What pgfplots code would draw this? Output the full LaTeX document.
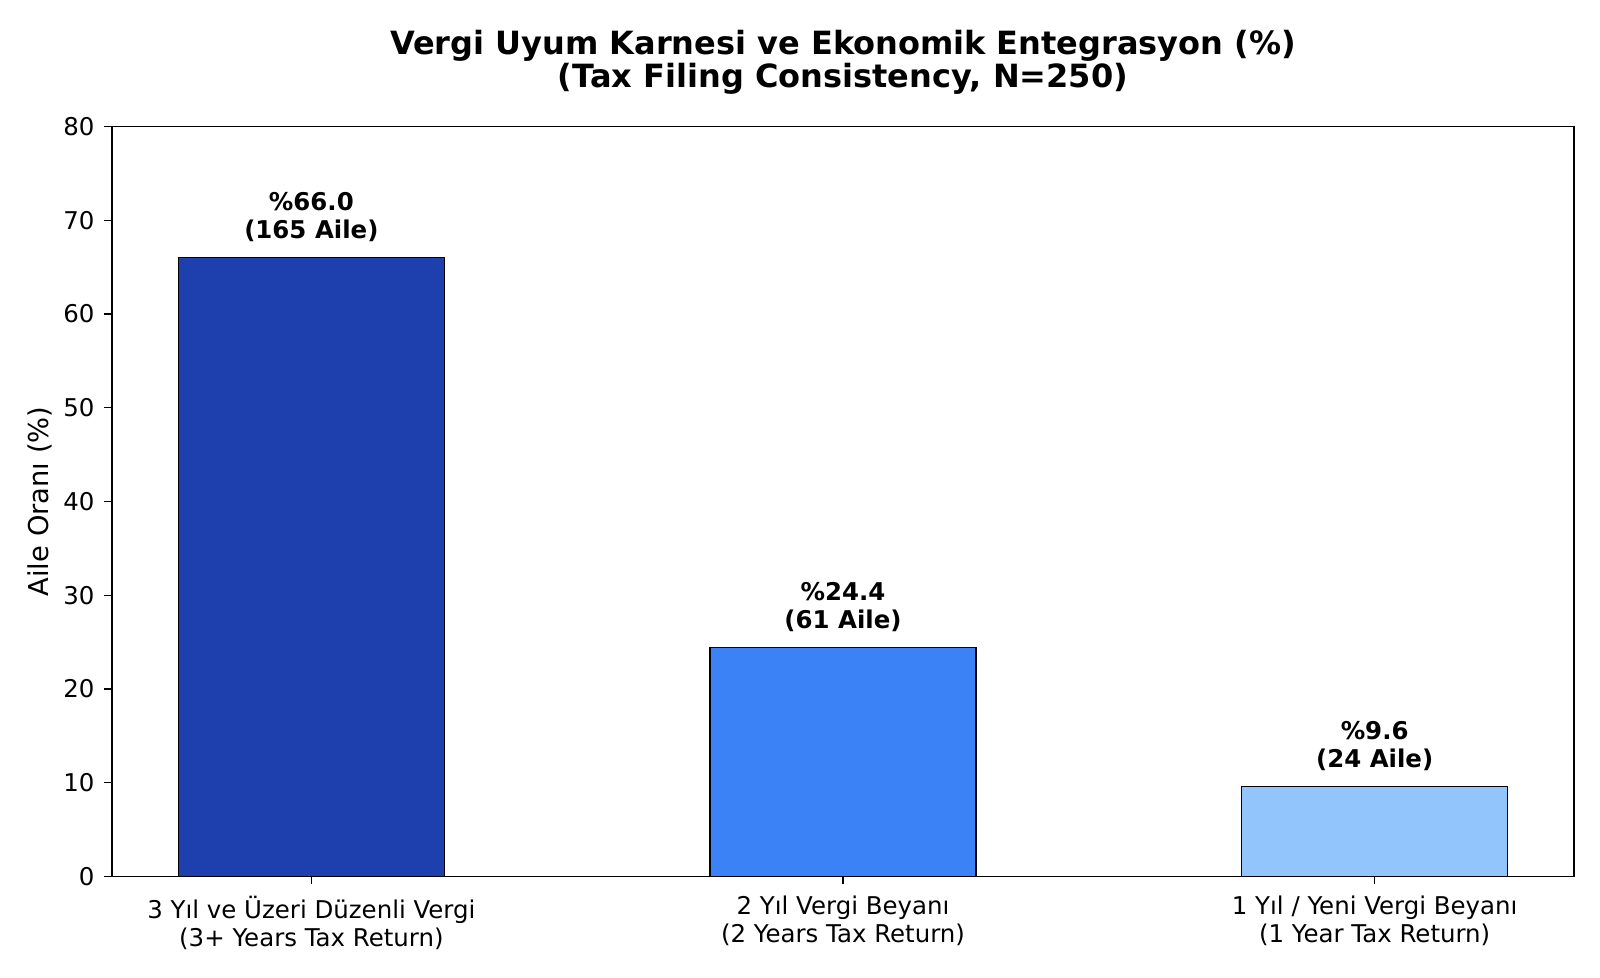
\documentclass[border=0pt]{standalone}
\usepackage{fontspec}
\setmainfont{DejaVu Sans}
\usepackage{pgfplots}
\usepackage{pgfplotstable}
\pgfplotsset{compat=1.18}

\definecolor{barDark}{HTML}{1E40AF}
\definecolor{barMid}{HTML}{3B82F6}
\definecolor{barLight}{HTML}{93C5FD}

% share of families (%) and family counts, N=250
\pgfplotstableread{
x y n
0 66.0 165
1 24.4 61
2 9.6 24
}\filingdata

\begin{document}
\begin{tikzpicture}
\useasboundingbox (-50.4pt,-45.6pt) rectangle (669.6pt,394.4pt);
\begin{axis}[
  at={(0,0)}, anchor=south west,
  width=657.9pt, height=337.5pt, scale only axis,
  xmin=-0.375, xmax=2.375,
  ymin=0, ymax=80,
  ytick={0,10,...,80},
  xtick={0,1,2},
  xticklabels={{3 Yıl ve Üzeri Düzenli Vergi\\(3+ Years Tax Return)},
               {2 Yıl Vergi Beyanı\\(2 Years Tax Return)},
               {1 Yıl / Yeni Vergi Beyanı\\(1 Year Tax Return)}},
  xtick pos=bottom, ytick pos=left,
  tick align=outside,
  major tick length=3.6pt,
  minor tick num=0,
  tick style={black, line width=0.6pt},
  axis line style={black, line width=0.6pt},
  /pgf/number format/assume math mode=true,
  ticklabel style={font=\fontsize{11}{12.5}\selectfont},
  xticklabel style={align=center, inner sep=0pt, yshift=-5pt},
  yticklabel style={inner sep=0pt, xshift=-4.1pt},
  ylabel={Aile Oranı (\%)},
  ylabel style={font=\fontsize{12.3}{14}\selectfont, anchor=base,
    at={([xshift=-28.6pt]axis description cs:0,0.5)}},
  title={Vergi Uyum Karnesi ve Ekonomik Entegrasyon (\%)\\(Tax Filing Consistency, N=250)},
  title style={font=\bfseries\fontsize{14.4}{15.2}\selectfont, align=center,
    at={(axis description cs:0.5,1)}, anchor=south, inner sep=0pt, yshift=8pt},
  ybar,
  nodes near coords={\%\pgfmathprintnumber[fixed,fixed zerofill,precision=1]{\pgfplotspointmeta}\\(\pgfmathprintnumber[fixed,precision=0]{\famcount}\ Aile)},
  every node near coord/.append style={font=\bfseries\fontsize{11}{12.8}\selectfont,
    align=center, anchor=south, inner sep=0pt, yshift=6.7pt, text=black},
]
\addplot[ybar, bar width=0.5, bar shift=0pt, fill=barDark, draw=black, line width=0.6pt,
  visualization depends on={\thisrow{n} \as \famcount},
  skip coords between index={1}{3}]
  table[x=x, y=y, meta=y] {\filingdata};
\addplot[ybar, bar width=0.5, bar shift=0pt, fill=barMid, draw=black, line width=0.6pt,
  visualization depends on={\thisrow{n} \as \famcount},
  skip coords between index={0}{1}, skip coords between index={2}{3}]
  table[x=x, y=y, meta=y] {\filingdata};
\addplot[ybar, bar width=0.5, bar shift=0pt, fill=barLight, draw=black, line width=0.6pt,
  visualization depends on={\thisrow{n} \as \famcount},
  skip coords between index={0}{2}]
  table[x=x, y=y, meta=y] {\filingdata};
\end{axis}
\end{tikzpicture}
\end{document}
